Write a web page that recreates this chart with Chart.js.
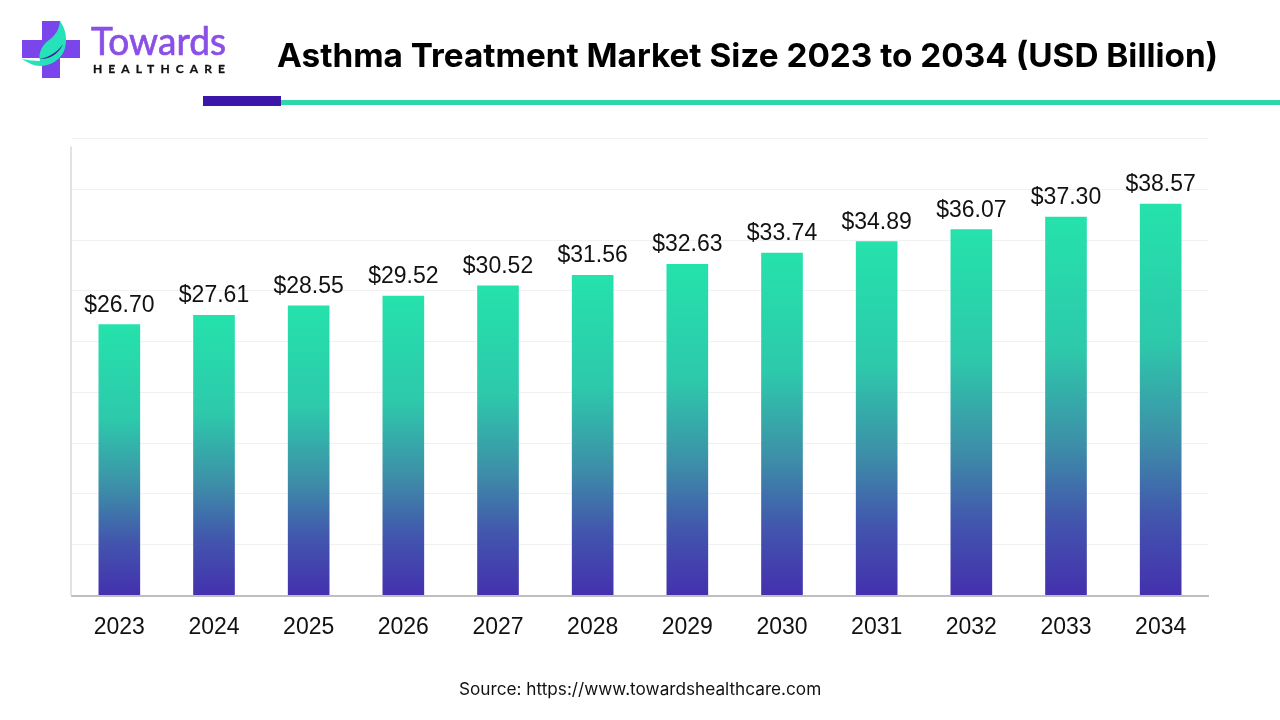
<!DOCTYPE html>
<html>
<head>
<meta charset="utf-8">
<title>Asthma Treatment Market Size</title>
<script src="https://cdn.jsdelivr.net/npm/chart.js@4"></script>
<style>
  html, body { margin: 0; padding: 0; background: #fff; }
  #wrap { position: relative; width: 1280px; height: 720px; overflow: hidden; }
  #sizeChart { position: absolute; left: 0; top: 0; }
  #title { position: absolute; left: 277px; top: 35px; font: 700 33.3px Inter, sans-serif; color: #000; white-space: nowrap; }
  #source { position: absolute; left: 459px; top: 678px; font: 400 17.2px Inter, sans-serif; color: #111; white-space: nowrap; }
  .rule { position: absolute; }
  #logo { position: absolute; left: 0; top: 0; }
</style>
</head>
<body>
<div id="wrap">
  <canvas id="sizeChart" width="1280" height="720"></canvas>
  <svg id="logo" width="240" height="90">
    <path d="M42 21h18v19h20v18h-20v20h-18v-20h-20v-18h20z" fill="#7a45ea"/>
    <path d="M60 21c6 8 8 20 4 30c-4 9-14 15-24 15c-6 0-12-3-18-7c6 1 12 2 18 2c-2-8 2-16 9-21c6-4 10-10 11-19z" fill="#26e2b8"/>
    <path d="M63 44c-4 10-14 16-24 15c8-1 18-6 24-15z" fill="#3a1fa0"/>
    <text x="91" y="55" font-family="Lato, sans-serif" font-size="39" fill="#8a4fe6" stroke="#8a4fe6" stroke-width="0.7" textLength="135" lengthAdjust="spacingAndGlyphs">Towards</text>
    <text x="93" y="73" font-family="Lato, sans-serif" font-weight="700" font-size="12" fill="#111" stroke="#111" stroke-width="0.3" textLength="132">HEALTHCARE</text>
  </svg>
  <div id="title">Asthma Treatment Market Size 2023 to 2034 (USD Billion)</div>
  <div class="rule" style="left:281px;top:100px;width:999px;height:5px;background:#2fd6ac"></div>
  <div class="rule" style="left:203px;top:96px;width:78px;height:10px;background:#3a17a8"></div>
  <div id="source">Source: https://www.towardshealthcare.com</div>
</div>
<script>
const years = ["2023", "2024", "2025", "2026", "2027", "2028", "2029", "2030", "2031", "2032", "2033", "2034"];
const marketSize = [26.70, 27.61, 28.55, 29.52, 30.52, 31.56, 32.63, 33.74, 34.89, 36.07, 37.30, 38.57];
const axisMax = 45;
const axisStep = 5;

// each bar gets its own gradient, green at its top and purple at its base
function barGradient(context) {
  const chart = context.chart;
  const y = chart.scales.y;
  if (!y || context.raw === undefined) return "#25e2ab";
  const top = y.getPixelForValue(context.raw);
  const bottom = y.getPixelForValue(0);
  // scales have no pixels yet on the first pass
  if (!isFinite(top) || !isFinite(bottom)) return "#25e2ab";
  const g = chart.ctx.createLinearGradient(0, top, 0, bottom);
  g.addColorStop(0, "#25e2ab");
  g.addColorStop(0.35, "#2dc9ab");
  g.addColorStop(0.6, "#3d8fa8");
  g.addColorStop(0.8, "#4256ad");
  g.addColorStop(1, "#4430ae");
  return g;
}

const valueLabels = {
  id: "valueLabels",
  afterDatasetsDraw(chart) {
    const ctx = chart.ctx;
    const bars = chart.getDatasetMeta(0).data;
    ctx.save();
    ctx.font = "23px 'Liberation Sans', sans-serif";
    ctx.fillStyle = "#111";
    ctx.textAlign = "center";
    ctx.textBaseline = "middle";
    bars.forEach(function (bar, i) {
      ctx.fillText("$" + marketSize[i].toFixed(2), bar.x, bar.y - 19);
    });
    ctx.restore();
  }
};

// left axis line stops a little short of the top gridline
const leftAxis = {
  id: "leftAxis",
  beforeDatasetsDraw(chart) {
    const ctx = chart.ctx;
    const area = chart.chartArea;
    ctx.save();
    ctx.strokeStyle = "#e2e2e2";
    ctx.lineWidth = 2;
    ctx.beginPath();
    ctx.moveTo(area.left - 1, area.top + 8);
    ctx.lineTo(area.left - 1, area.bottom);
    ctx.stroke();
    ctx.restore();
  }
};

new Chart("sizeChart", {
  type: "bar",
  data: {
    labels: years,
    datasets: [
      {
        data: marketSize,
        backgroundColor: barGradient,
        categoryPercentage: 1,
        barPercentage: 0.44
      }
    ]
  },
  options: {
    responsive: false,
    animation: false,
    layout: { padding: { left: 72, right: 72, top: 138.5, bottom: 0 } },
    plugins: {
      legend: { display: false },
      title: { display: false },
      tooltip: { enabled: false }
    },
    scales: {
      x: {
        afterFit(scale) { scale.height = 124.5; },
        grid: { display: false },
        border: { color: "#bfbfbf", width: 2 },
        ticks: {
          color: "#111",
          padding: 10,
          maxRotation: 0,
          font: { family: "'Liberation Sans', sans-serif", size: 23 }
        }
      },
      y: {
        min: 0,
        max: axisMax,
        afterFit(scale) { scale.width = 0; },
        grid: { color: "#f1f1f1", lineWidth: 1, drawTicks: false },
        border: { display: false },
        ticks: { display: false, stepSize: axisStep }
      }
    }
  },
  plugins: [valueLabels, leftAxis]
});
</script>
</body>
</html>
